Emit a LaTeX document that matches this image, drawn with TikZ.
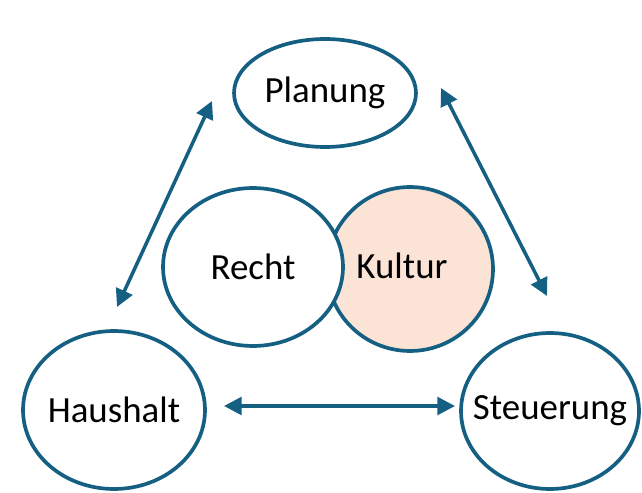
\documentclass[tikz,border=0pt]{standalone}
\usepackage{fontspec}
\setmainfont{Carlito}
\usetikzlibrary{shapes.geometric,arrows.meta}
\definecolor{rimblue}{HTML}{156082}
\definecolor{peach}{HTML}{FBE3D6}

\begin{document}
\begin{tikzpicture}[x=0.02cm, y=-0.02cm, font=\fontsize{21}{24}\selectfont,
  circ/.style={ellipse, draw=rimblue, line width=2.1pt, fill=white, inner sep=0pt},
  link/.style={{Triangle[length=10pt,width=10pt]}-{Triangle[length=10pt,width=10pt]}, draw=rimblue, line width=2pt}]

  \useasboundingbox (0,0) rectangle (642,493);

  % outer ring, labels set on top so the text does not widen the ellipse
  \node[circ, minimum width=3.64cm, minimum height=2.16cm, label=center:Planung] (plan) at (325,93) {};
  \node[circ, minimum width=3.64cm, minimum height=3.16cm, label=center:Haushalt] (haus) at (114,410) {};
  \node[circ, minimum width=3.56cm, minimum height=3.12cm, label=center:Steuerung] (steu) at (550,411) {};

  % centre pair
  \node[circ, fill=peach, minimum width=3.32cm, minimum height=3.28cm] (kult) at (410,269) {};
  \node[circ, minimum width=3.6cm, minimum height=3.16cm, label=center:Recht] (recht) at (253,267) {};
  \node at (402,266) {Kultur};

  \coordinate (hp1) at (117,307);
  \coordinate (hp2) at (212,101);
  \coordinate (ps1) at (441,88);
  \coordinate (ps2) at (547,296);
  \coordinate (hs1) at (224,406);
  \coordinate (hs2) at (455,406);

  \draw[link] (hp1) -- (hp2);
  \draw[link] (ps1) -- (ps2);
  \draw[link] (hs1) -- (hs2);
\end{tikzpicture}
\end{document}
